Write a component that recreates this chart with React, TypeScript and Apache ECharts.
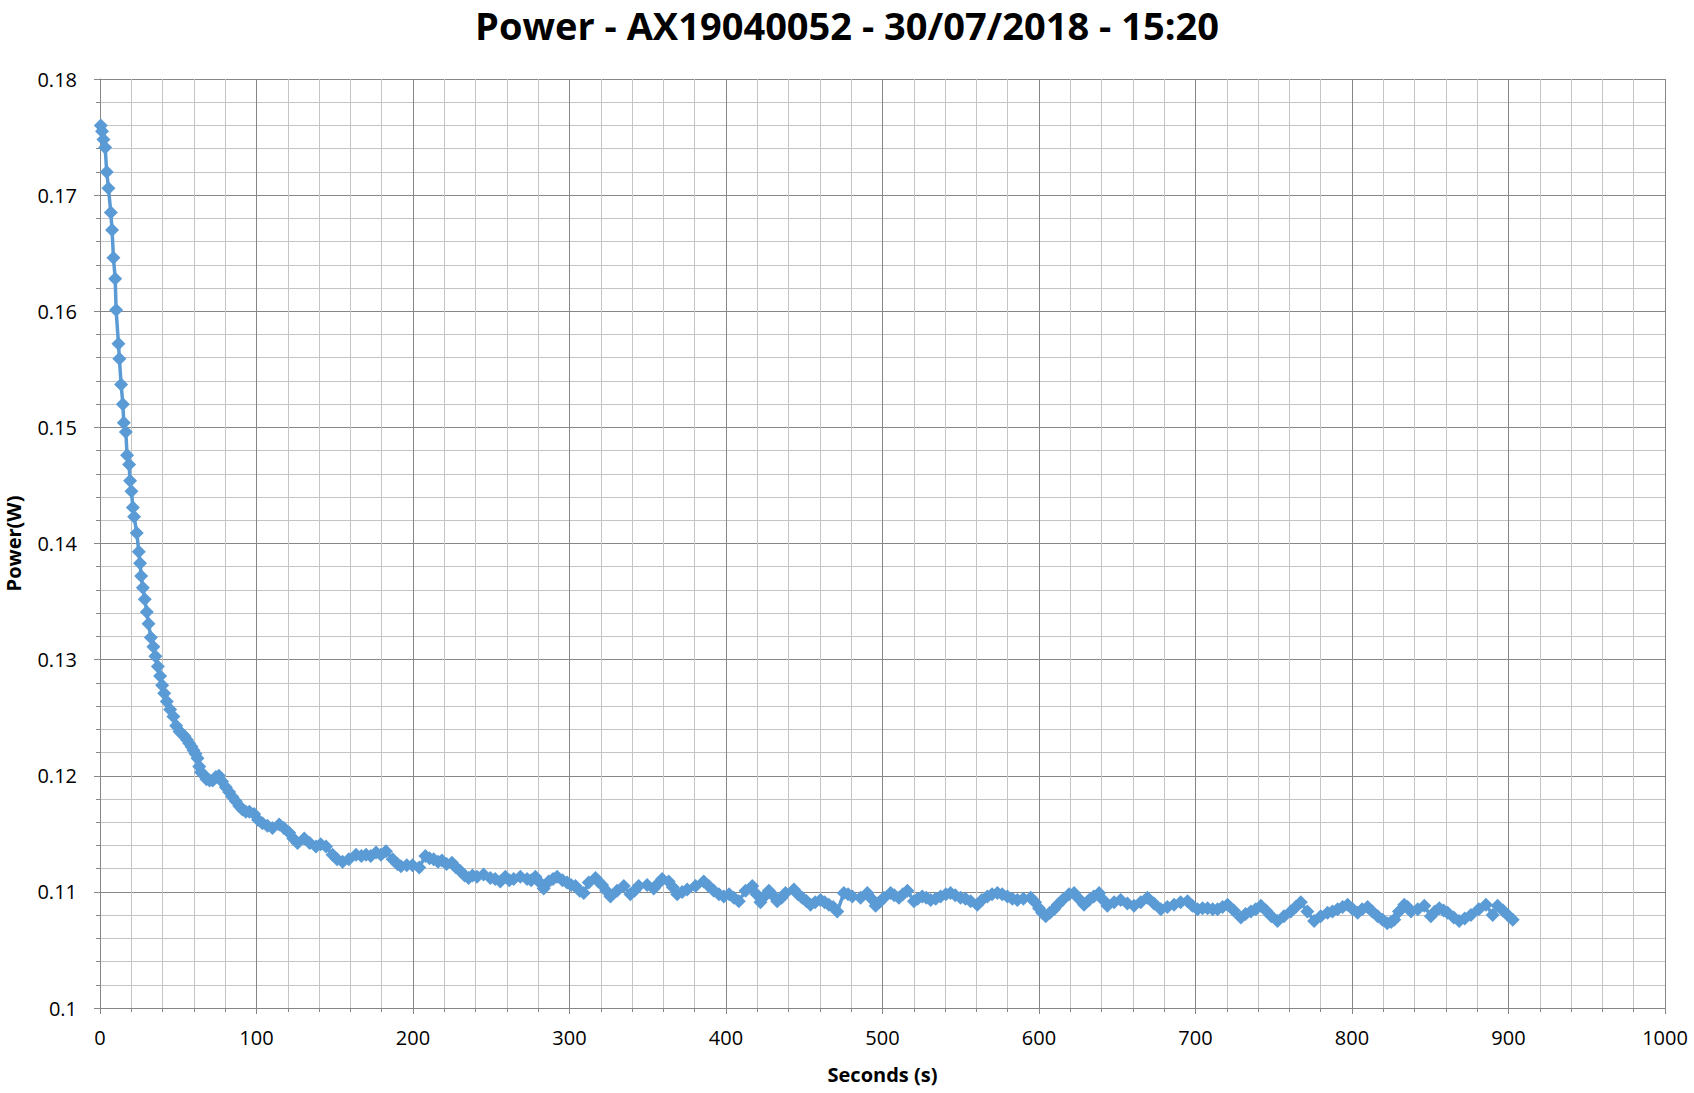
import React, { useEffect, useRef } from "react";
import * as echarts from "echarts";

const TITLE = "Power - AX19040052 - 30/07/2018 - 15:20";
const X_NAME = "Seconds (s)";
const Y_NAME = "Power(W)";

const xTicks = [0, 100, 200, 300, 400, 500, 600, 700, 800, 900, 1000];
const yTicks = [0.1, 0.11, 0.12, 0.13, 0.14, 0.15, 0.16, 0.17, 0.18];

const seconds = [
  0.5, 1.3, 2.2, 3.3, 4.3, 5.4, 6.9, 7.7, 8.6, 9.7, 10.3, 11.8, 12.4, 13.5, 14.6, 15.2, 16.5, 17.3, 18.6, 19.2,
  20.1, 21.0, 21.8, 23.5, 24.8, 25.6, 26.3, 27.4, 28.6, 29.9, 31.0, 32.5, 34.1, 35.4, 37.0, 38.4, 39.7, 41.0, 42.7, 44.8,
  46.9, 48.7, 50.8, 52.5, 54.0, 55.5, 57.0, 58.5, 59.7, 61.0, 62.3, 63.4, 64.5, 66.1, 68.0, 70.0, 72.0, 74.0, 76.0, 78.0,
  80.4, 82.5, 84.5, 86.8, 89.0, 91.0, 93.2, 95.5, 98.5, 101, 103.8, 107, 110.2, 114.5, 117.5, 120.9, 123.5, 126.2, 130.5, 134,
  138, 141, 144.4, 148.6, 151.5, 155, 159, 163.6, 167, 170, 173, 176.4, 179.5, 182.7, 187, 190, 192.3, 196, 199.7, 204,
  207.9, 210.5, 213.2, 216, 218.5, 221.5, 224.9, 227.5, 230.2, 233, 235.5, 238, 240.9, 245.1, 249.4, 252.5, 255.8, 259, 261.5, 264.3,
  268.6, 272.9, 275.5, 278.2, 281, 283.5, 286.7, 289.5, 292.1, 295.5, 298.5, 301, 303.8, 306.5, 309.1, 312.3, 316.6, 318.5, 320.8, 323.5,
  326.2, 330.4, 334.7, 338.9, 341.5, 344.2, 349.6, 353.8, 356.5, 359.2, 363.4, 366, 368.8, 372, 375.2, 380.5, 385.8, 389, 392.2, 395.5,
  398.6, 402, 405, 408.2, 412.5, 416.8, 419.5, 422, 424.5, 427.4, 430, 432.7, 435.5, 438, 443.4, 446, 448.7, 451.5, 454, 457,
  460.4, 463, 465.7, 468.5, 471.1, 475.3, 478, 480.7, 486, 490.3, 493, 495.6, 498, 500.9, 505.2, 507.5, 510.5, 513, 515.9, 520.1,
  522.5, 525.4, 528, 530.8, 534, 537.1, 540.5, 543.5, 546.5, 549.9, 553, 556.3, 560.6, 563.5, 567, 570, 573.4, 576.5, 579.8, 583,
  586.2, 590, 594.7, 597.5, 600, 602, 604.3, 607, 609.6, 612, 615, 619.2, 622.4, 625.5, 628.8, 632, 635, 638.4, 641, 643.7,
  648, 652.2, 656.5, 660.7, 665, 669.3, 673.5, 677.8, 682, 686.3, 690.5, 694.9, 698, 701.3, 704.5, 707.7, 711, 714.1, 717.3, 720.5,
  724.5, 729, 732, 735.4, 738.5, 741.8, 745, 748.5, 752.4, 756.5, 760.9, 764, 767.3, 771.5, 775.8, 780, 784.4, 787.5, 790.8, 794,
  797.2, 800.5, 803.6, 806.5, 810, 813, 816.4, 819.5, 822.5, 825, 827, 830, 833.4, 835.5, 837.7, 842, 846.2, 850.4, 853, 855.8,
  858.5, 861.1, 865, 868.5, 872, 876, 881, 885.6, 889.9, 893, 896.5, 899.5, 902.7,
];

const power = [
  0.1760, 0.1755, 0.1748, 0.1741, 0.1720, 0.1706, 0.1685, 0.1670, 0.1646, 0.1628, 0.1601, 0.1572, 0.1559, 0.1537, 0.1520, 0.1504, 0.1496, 0.1476, 0.1468, 0.1454,
  0.1445, 0.1431, 0.1423, 0.1409, 0.1393, 0.1383, 0.1372, 0.1362, 0.1352, 0.1341, 0.1331, 0.1319, 0.1311, 0.1303, 0.1294, 0.1286, 0.1278, 0.1271, 0.1264, 0.1257,
  0.1251, 0.1243, 0.1238, 0.1236, 0.1234, 0.1231, 0.1228, 0.1225, 0.1222, 0.1219, 0.1215, 0.1208, 0.1203, 0.1201, 0.1197, 0.1196, 0.1196, 0.1199, 0.1200, 0.1195,
  0.1190, 0.1186, 0.1182, 0.1178, 0.1174, 0.1171, 0.1169, 0.1169, 0.1167, 0.1162, 0.1159, 0.1157, 0.1155, 0.1158, 0.1155, 0.1151, 0.1146, 0.1142, 0.1146, 0.1142,
  0.1139, 0.1141, 0.1139, 0.1132, 0.1128, 0.1126, 0.1128, 0.1132, 0.1131, 0.1132, 0.1131, 0.1134, 0.1132, 0.1135, 0.1128, 0.1124, 0.1122, 0.1123, 0.1123, 0.1121,
  0.1131, 0.1129, 0.1128, 0.1126, 0.1127, 0.1124, 0.1125, 0.1121, 0.1118, 0.1114, 0.1112, 0.1114, 0.1113, 0.1115, 0.1112, 0.1111, 0.1109, 0.1113, 0.1110, 0.1111,
  0.1113, 0.1111, 0.1110, 0.1113, 0.1108, 0.1103, 0.1109, 0.1111, 0.1113, 0.1110, 0.1108, 0.1106, 0.1105, 0.1101, 0.1099, 0.1108, 0.1112, 0.1109, 0.1106, 0.1101,
  0.1096, 0.1101, 0.1105, 0.1098, 0.1101, 0.1105, 0.1106, 0.1103, 0.1107, 0.1111, 0.1109, 0.1104, 0.1098, 0.1100, 0.1102, 0.1105, 0.1109, 0.1105, 0.1101, 0.1098,
  0.1096, 0.1098, 0.1095, 0.1092, 0.1101, 0.1105, 0.1098, 0.1091, 0.1096, 0.1101, 0.1097, 0.1092, 0.1095, 0.1099, 0.1102, 0.1098, 0.1095, 0.1092, 0.1089, 0.1091,
  0.1093, 0.1091, 0.1089, 0.1087, 0.1083, 0.1099, 0.1098, 0.1096, 0.1095, 0.1099, 0.1094, 0.1088, 0.1091, 0.1095, 0.1099, 0.1097, 0.1095, 0.1098, 0.1101, 0.1092,
  0.1094, 0.1096, 0.1095, 0.1093, 0.1094, 0.1096, 0.1098, 0.1099, 0.1097, 0.1095, 0.1094, 0.1092, 0.1089, 0.1093, 0.1096, 0.1098, 0.1099, 0.1098, 0.1096, 0.1094,
  0.1093, 0.1094, 0.1095, 0.1091, 0.1086, 0.1082, 0.1079, 0.1082, 0.1085, 0.1089, 0.1093, 0.1098, 0.1099, 0.1094, 0.1089, 0.1093, 0.1096, 0.1099, 0.1093, 0.1088,
  0.1091, 0.1093, 0.1090, 0.1088, 0.1091, 0.1095, 0.1090, 0.1085, 0.1087, 0.1089, 0.1091, 0.1092, 0.1088, 0.1085, 0.1086, 0.1086, 0.1085, 0.1085, 0.1087, 0.1089,
  0.1084, 0.1078, 0.1081, 0.1083, 0.1085, 0.1088, 0.1084, 0.1079, 0.1075, 0.1079, 0.1083, 0.1087, 0.1091, 0.1083, 0.1075, 0.1079, 0.1082, 0.1083, 0.1085, 0.1087,
  0.1089, 0.1085, 0.1082, 0.1085, 0.1087, 0.1083, 0.1079, 0.1076, 0.1073, 0.1074, 0.1076, 0.1083, 0.1089, 0.1087, 0.1083, 0.1085, 0.1088, 0.1079, 0.1083, 0.1086,
  0.1084, 0.1082, 0.1078, 0.1075, 0.1077, 0.1080, 0.1085, 0.1089, 0.1080, 0.1088, 0.1084, 0.1080, 0.1076,
];

const FONT = "'Open Sans', 'Noto Sans', sans-serif";
const LINE_BLUE = "#5b9bd5";
const MAJOR = "#868686";
const MINOR = "#c4c4c4";

export default function App() {
  const ref = useRef<HTMLDivElement>(null);

  useEffect(() => {
    document.body.style.margin = "0";
    if (!ref.current) return;
    const chart = echarts.init(ref.current, undefined, { renderer: "svg" });
    const data = seconds.map((t, i) => [t, power[i]]);
    const fmtY = (v: number) => String(parseFloat(v.toFixed(3)));
    const fmtX = (v: number) => String(v);

    chart.setOption({
      animation: false,
      backgroundColor: "#ffffff",
      title: {
        text: TITLE,
        left: "center",
        top: 1,
        textStyle: { fontFamily: FONT, fontSize: 38, fontWeight: "bold", color: "#000" },
      },
      grid: {
        left: 100,
        right: 29,
        top: 79,
        bottom: 85,
        containLabel: false,
        outerBoundsMode: "none",
      },
      xAxis: {
        type: "value",
        min: xTicks[0],
        max: xTicks[xTicks.length - 1],
        interval: 100,
        name: X_NAME,
        nameLocation: "middle",
        nameGap: 56,
        nameTextStyle: { fontFamily: FONT, fontSize: 20, fontWeight: "bold", color: "#000" },
        axisLine: { show: true, lineStyle: { color: MAJOR, width: 1 } },
        axisTick: { show: true, length: 6, lineStyle: { color: MAJOR } },
        minorTick: { show: true, splitNumber: 5, length: 4, lineStyle: { color: MAJOR } },
        axisLabel: { fontFamily: FONT, fontSize: 20, color: "#000", margin: 19, formatter: fmtX },
        splitLine: { show: true, lineStyle: { color: MAJOR, width: 1 } },
        minorSplitLine: { show: true, lineStyle: { color: MINOR, width: 1 } },
      },
      yAxis: {
        type: "value",
        min: yTicks[0],
        max: yTicks[yTicks.length - 1],
        interval: 0.01,
        name: Y_NAME,
        nameLocation: "middle",
        nameGap: 77,
        nameRotate: 90,
        nameTextStyle: { fontFamily: FONT, fontSize: 20, fontWeight: "bold", color: "#000" },
        axisLine: { show: true, lineStyle: { color: MAJOR, width: 1 } },
        axisTick: { show: true, length: 6, lineStyle: { color: MAJOR } },
        minorTick: { show: true, splitNumber: 5, length: 4, lineStyle: { color: MAJOR } },
        axisLabel: { fontFamily: FONT, fontSize: 20, color: "#000", margin: 23, formatter: fmtY },
        splitLine: { show: true, lineStyle: { color: MAJOR, width: 1 } },
        minorSplitLine: { show: true, lineStyle: { color: MINOR, width: 1 } },
      },
      series: [
        {
          type: "line",
          data,
          symbol: "diamond",
          symbolSize: 14,
          showSymbol: true,
          showAllSymbol: true,
          lineStyle: { color: LINE_BLUE, width: 3.5 },
          itemStyle: { color: LINE_BLUE },
          emphasis: { disabled: true },
        },
      ],
    });

    return () => chart.dispose();
  }, []);

  return <div ref={ref} style={{ width: 1694, height: 1093 }} />;
}
